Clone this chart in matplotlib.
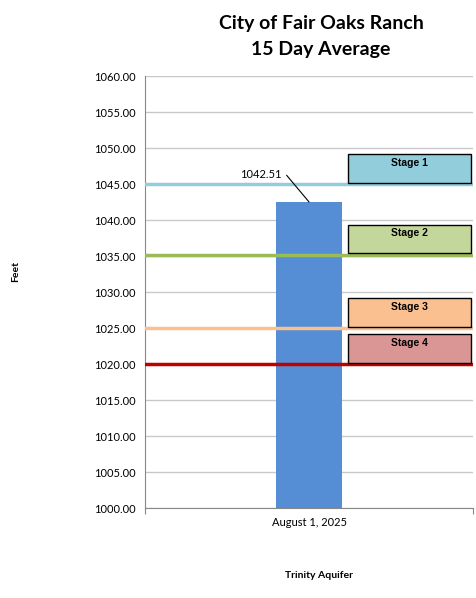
import matplotlib.pyplot as plt
from matplotlib.patches import Rectangle

# data
categories = ['August 1, 2025']
levels = [1042.51]
stage_names = ['Stage 1', 'Stage 2', 'Stage 3', 'Stage 4']
stage_levels = [1045.0, 1035.2, 1025.0, 1020.0]
stage_line_colors = ['#92CDDC', '#9BBB59', '#FAC090', '#C00000']
stage_box_colors = ['#92CDDC', '#C4D79B', '#FAC090', '#DA9694']

plt.rcParams['font.family'] = ['Lato', 'DejaVu Sans']

fig = plt.figure(figsize=(4.76, 5.98), dpi=100)
ax = fig.add_axes([145 / 476, 1 - 508 / 598, 328 / 476, 432 / 598])

ax.set_ylim(1000, 1060)
ax.set_yticks(range(1000, 1061, 5))
ax.set_yticklabels(['%.2f' % v for v in range(1000, 1061, 5)], fontsize=8)
ax.set_xlim(-0.5, 0.5)
ax.set_xticks([-0.5, 0.5])
ax.set_xticklabels([])
ax.tick_params(axis='y', length=0, pad=7)
ax.tick_params(axis='x', length=4, color='#888888')
ax.grid(axis='y', color='#C8C8C8', linewidth=1)
ax.set_axisbelow(True)
for s in ['top', 'right']:
    ax.spines[s].set_visible(False)
for s in ['left', 'bottom']:
    ax.spines[s].set_color('#888888')

ax.bar(0, levels[0], width=0.2, bottom=0, color='#558ED5', zorder=2)
ax.text(0, 998.05, categories[0], ha='center', va='center', fontsize=8)

# stage lines with labelled boxes
for name, lvl, lc, bc in zip(stage_names, stage_levels, stage_line_colors, stage_box_colors):
    ax.axhline(lvl, color=lc, linewidth=2.5, zorder=3)
    ax.add_patch(Rectangle((0.12, lvl + 0.15), 0.375, 4.0, facecolor=bc, edgecolor='black',
                           linewidth=1, zorder=3.5))
    ax.text(0.3075, lvl + 2.95, name, ha='center', va='center', fontsize=7.5,
            fontweight='bold', family=['Liberation Sans', 'DejaVu Sans'], zorder=5)

ax.annotate('%.2f' % levels[0], xy=(0, levels[0]), xytext=(-0.085, 1046.3),
            ha='right', va='center', fontsize=8,
            arrowprops=dict(arrowstyle='-', color='black', linewidth=0.8,
                            connectionstyle='angle,angleA=0,angleB=-50,rad=0',
                            shrinkA=2, shrinkB=0))

fig.text(321 / 476, 1 - 24 / 598, 'City of Fair Oaks Ranch', ha='center', va='center',
         fontsize=14, fontweight='bold')
fig.text(321 / 476, 1 - 50 / 598, '15 Day Average', ha='center', va='center',
         fontsize=14, fontweight='bold')
fig.text(16 / 476, 1 - 272 / 598, 'Feet', rotation=90, ha='center', va='center',
         fontsize=7.5, fontweight='bold')
fig.text(319 / 476, 1 - 575 / 598, 'Trinity Aquifer', ha='center', va='center',
         fontsize=7.5, fontweight='bold')

fig.savefig('out.png', dpi=100)
